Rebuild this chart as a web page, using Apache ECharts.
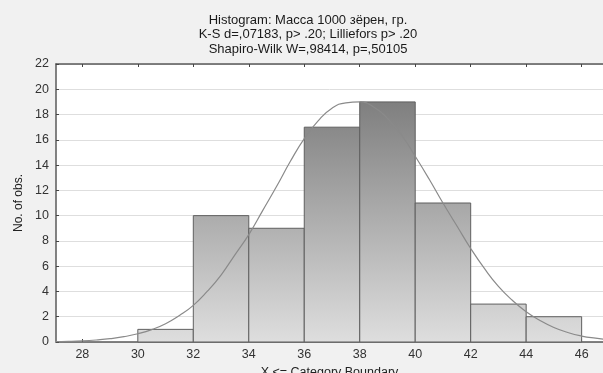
<!DOCTYPE html>
<html>
<head>
<meta charset="utf-8">
<script src="https://cdn.jsdelivr.net/npm/echarts@6/dist/echarts.min.js"></script>
<style>
  html, body { margin: 0; padding: 0; background: #f1f1f1; }
  #chart { width: 603px; height: 373px; }
</style>
</head>
<body>
<div id="chart"></div>
<script>
// histogram bins (lower bound, width 2) and counts
const binStarts = [30, 32, 34, 36, 38, 40, 42, 44];
const binWidth = 2;
const counts = [1, 10, 9, 17, 19, 11, 3, 2];

// expected normal curve
const curveX = [27, 27.5, 28, 28.5, 29, 29.5, 30, 30.5, 31, 31.5, 32, 32.5, 33, 33.5, 34, 34.5, 35, 35.5, 36, 36.5, 37,
  37.5, 38, 38.5, 39, 39.5, 40, 40.5, 41, 41.5, 42, 42.5, 43, 43.5, 44, 44.5, 45, 45.5, 46, 46.5, 47];
const curveY = [0.03, 0.05, 0.09, 0.16, 0.26, 0.42, 0.65, 0.98, 1.45, 2.1, 2.9, 4.0, 5.3, 6.9, 8.5, 10.4, 12.3, 14.3, 16.1, 17.5, 18.5,
  18.93, 19.0, 18.6, 17.7, 16.4, 14.7, 12.9, 11.0, 9.2, 7.4, 5.8, 4.4, 3.3, 2.4, 1.7, 1.15, 0.75, 0.47, 0.3, 0.18];

const xTicks = [28, 30, 32, 34, 36, 38, 40, 42, 44, 46];

const titleLines = [
  "Histogram: Масса 1000 зёрен, гр.",
  "K-S d=,07183, p> .20; Lilliefors p> .20",
  "Shapiro-Wilk W=,98414, p=,50105"
];

const FONT = "Liberation Sans, Arial, sans-serif";
const chart = echarts.init(document.getElementById("chart"), null, { renderer: "canvas" });

const axisLine = { show: true, lineStyle: { color: "#5a5a5a", width: 1.5 } };
const labelStyle = { fontFamily: FONT, fontSize: 12.5, color: "#333" };

chart.setOption({
  backgroundColor: "#f1f1f1",
  animation: false,
  title: {
    text: titleLines.join("\n"),
    left: 303,
    textAlign: "center",
    top: 8,
    textStyle: { fontFamily: FONT, fontSize: 13, fontWeight: "normal", color: "#1a1a1a", lineHeight: 14.5 }
  },
  grid: {
    left: 56, right: 0, top: 64, bottom: 31,
    outerBoundsMode: "none",
    show: true, backgroundColor: "#ffffff", borderWidth: 0
  },
  xAxis: [
    {
      type: "value", min: 27.05, max: 46.77,
      name: "X <= Category Boundary",
      nameLocation: "middle", nameGap: 23,
      nameTextStyle: { fontFamily: FONT, fontSize: 12.5, color: "#222" },
      axisLine,
      axisTick: { show: true, inside: true, length: 3, customValues: xTicks, lineStyle: { color: "#444" } },
      axisLabel: Object.assign({ customValues: xTicks, margin: 6 }, labelStyle),
      splitLine: { show: false }
    },
    {
      type: "value", min: 27.05, max: 46.77, position: "top",
      axisLine,
      axisTick: { show: true, inside: true, length: 3, customValues: xTicks, lineStyle: { color: "#444" } },
      axisLabel: { show: false },
      splitLine: { show: false }
    }
  ],
  yAxis: {
    type: "value", min: 0, max: 22, interval: 2,
    name: "No. of obs.",
    nameLocation: "middle", nameGap: 31,
    nameTextStyle: { fontFamily: FONT, fontSize: 12, color: "#222" },
    axisLine,
    axisTick: { show: true, inside: true, length: 3, lineStyle: { color: "#444" } },
    axisLabel: Object.assign({ margin: 7 }, labelStyle),
    splitLine: { show: true, lineStyle: { color: "#dedede", width: 1 } }
  },
  series: [
    {
      type: "custom",
      data: binStarts.map((x, i) => [x, counts[i]]),
      renderItem(params, api) {
        const x0 = api.value(0);
        const c = api.value(1);
        const p0 = api.coord([x0, c]);
        const p1 = api.coord([x0 + binWidth, 0]);
        const top = api.coord([x0, 22]);
        return {
          type: "rect",
          shape: { x: p0[0], y: p0[1], width: p1[0] - p0[0], height: p1[1] - p0[1] },
          style: {
            fill: new echarts.graphic.LinearGradient(0, top[1], 0, p1[1], [
              { offset: 0, color: "#707070" },
              { offset: 1, color: "#dedede" }
            ], true),
            stroke: "#5f5f5f",
            lineWidth: 1
          }
        };
      },
      z: 2
    },
    {
      type: "line",
      data: curveX.map((x, i) => [x, curveY[i]]),
      smooth: true,
      showSymbol: false,
      lineStyle: { color: "#8a8a8a", width: 1.2 },
      z: 3
    }
  ]
});
</script>
</body>
</html>
